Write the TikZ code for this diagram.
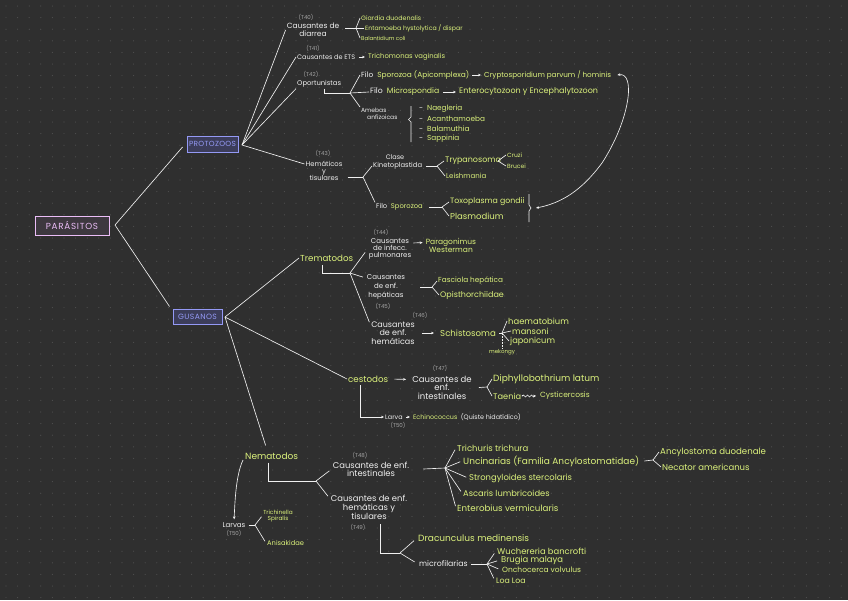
\documentclass[tikz,border=0pt]{standalone}
\usepackage{fontspec}
\setmainfont{Poppins}
\usepackage{xcolor}
\usetikzlibrary{arrows.meta, decorations.pathmorphing}

\definecolor{bgc}{HTML}{2F2F2F}
\definecolor{dotc}{HTML}{505050}
\definecolor{wht}{HTML}{F0F0F0}
\definecolor{lime}{HTML}{DCF27C}
\definecolor{tagc}{HTML}{A3A3A3}
\definecolor{pinkc}{HTML}{EBBDF7}
\definecolor{pinkf}{HTML}{3D383F}
\definecolor{bluec}{HTML}{9499F5}
\definecolor{bluef}{HTML}{3C3D5A}

\begin{document}
\begin{tikzpicture}[
        x=1pt, y=-1pt,
        fs/.style 2 args={font=\fontsize{#1}{#2}\selectfont},
        wt/.style={text=wht, inner sep=1pt, align=center, fs={7}{8}},
        lm/.style={text=lime, inner sep=1pt, align=center, fs={7}{8}},
        tag/.style={text=tagc, inner sep=0pt, fs={5.5}{6}},
        box/.style={rectangle, draw, line width=0.9pt, inner sep=0pt, align=center},
        ln/.style={draw=wht, line width=0.65pt},
        arr/.style={ln, -{Stealth[length=3pt, width=2.6pt]}},
        sq/.style={arr, decorate, decoration={snake, amplitude=1pt, segment length=4pt, post length=3pt}}
    ]
        % Background
        \fill[bgc] (0,0) rectangle (848,600);
        \foreach \i in {0,...,72} {
            \foreach \j in {0,...,51} {
                \fill[dotc] (6+\i*11.6, 6+\j*11.6) circle (0.6pt);
            }
        }

        % Main nodes
        \node[box, draw=pinkc, fill=pinkf, text=pinkc, minimum width=74pt, minimum height=19pt,
            font={\fontsize{8.8}{9}\selectfont\addfontfeatures{LetterSpace=8}}] (parasitos) at (72,225.5) {PARÁSITOS};
        \node[box, draw=bluec, fill=bluef, text=bluec, minimum width=51pt, minimum height=16pt,
            font={\fontsize{7.4}{7}\selectfont\addfontfeatures{LetterSpace=4}}] (protozoos) at (212.5,144) {PROTOZOOS};
        \node[box, draw=bluec, fill=bluef, text=bluec, minimum width=49pt, minimum height=15pt,
            font={\fontsize{7.6}{7}\selectfont\addfontfeatures{LetterSpace=5}}] (gusanos) at (197.5,316.5) {GUSANOS};
        \coordinate (pf) at (115,225);
        \coordinate (zf) at (242,145);
        \coordinate (gf) at (225,317);

        % Protozoos
        \node[tag] (t40) at (306,17) {(T40)};
        \node[wt, fs={7.5}{8}] (diarrea) at (313,30) {Causantes de\\diarrea};
        \coordinate (f40) at (356,28);
        \node[lm, fs={6.3}{7}, anchor=west] (giardia) at (360,18) {Giardia duodenalis};
        \node[lm, fs={6.2}{7}, anchor=west] (entamoeba) at (364,28) {Entamoeba hystolytica / dispar};
        \node[lm, fs={5.5}{7}, anchor=west] (balantidium) at (360,38) {Balantidium coli};

        \node[tag] (t41) at (313,48) {(T41)};
        \node[wt, fs={6.5}{7}, anchor=west] (ets) at (296,57) {Causantes de ETS};
        \node[lm, fs={6.8}{7}, anchor=west] (tricho) at (367,57) {Trichomonas vaginalis};

        \node[tag] (t42) at (311,74) {(T42)};
        \node[wt, fs={6.8}{7}, anchor=west] (oport) at (296,84) {Oportunistas};
        \coordinate (f42) at (350,93);
        \node[lm, fs={7.4}{8}, anchor=west] (fsporo) at (360,75) {\textcolor{wht}{Filo}\ \ Sporozoa (Apicomplexa)};
        \node[lm, fs={7.2}{8}, anchor=west] (crypto) at (483,75) {Cryptosporidium parvum / hominis};
        \node[lm, fs={7.7}{8}, anchor=west] (fmicro) at (369,92) {\textcolor{wht}{Filo}\ \ Microspondia};
        \node[lm, fs={8}{8}, anchor=west] (entero) at (458,92) {Enterocytozoon y Encephalytozoon};
        \node[wt, fs={6}{7}, anchor=north west, align=left] (amebas) at (360,107) {Amebas\\\hspace*{6pt}anfizoicas};
        \foreach \nm/\yy [count=\k] in {Naegleria/109, Acanthamoeba/119, Balamuthia/129, Sappinia/139}
            \node[lm, fs={7.3}{8}, anchor=west] (ameba\k) at (418,\yy) {\textcolor{wht}{-}\ \ \nm};
        \draw[ln] (411,106) -- (411,117) -- (408.5,119.5) -- (411,122) -- (411,142);

        \node[tag] (t43) at (323,153) {(T43)};
        \node[wt, fs={6.8}{6.8}] (hemat) at (324,171) {Hemáticos\\y\\tisulares};
        \coordinate (f43) at (363,177);
        \node[wt, fs={6.5}{7}] (clase) at (395,157) {Clase};
        \node[wt, fs={6.8}{7}, anchor=west] (kineto) at (372,166) {Kinetoplastida};
        \coordinate (f43k) at (437,166);
        \node[lm, fs={8}{8}, anchor=west] (trypa) at (444,161) {Trypanosoma};
        \node[lm, fs={7}{8}, anchor=west] (leish) at (445,176) {Leishmania};
        \coordinate (f43t) at (498,161);
        \node[lm, fs={6}{7}, anchor=west] (cruzi) at (506,155) {Cruzi};
        \node[lm, fs={6}{7}, anchor=west] (brucei) at (506,166) {Brucei};
        \node[lm, fs={6.8}{7}, anchor=west] (fsporo2) at (375,207) {\textcolor{wht}{Filo}\ \ Sporozoa};
        \coordinate (f43s) at (442,207);
        \node[lm, fs={7.8}{8}, anchor=west] (toxo) at (449,202) {Toxoplasma gondii};
        \node[lm, fs={8.5}{9}, anchor=west] (plasmo) at (449,216) {Plasmodium};
        \draw[ln] (529,194) -- (529,205) -- (531,208) -- (529,211) -- (529,222);
        \coordinate (brk) at (536,208);

        % Gusanos
        \node[lm, fs={8.7}{9}, anchor=west] (trema) at (299,258) {Trematodos};
        \coordinate (f44) at (350,273);
        \node[tag] (t44) at (381,232) {(T44)};
        \node[wt, fs={7}{7}] (pulmo) at (390,249) {Causantes\\de infecc.\\pulmonares};
        \node[lm, fs={7.5}{7}] (parag) at (451,245.5) {Paragonimus\\Westerman};
        \node[wt, fs={7}{9}] (hepat) at (386,287) {Causantes\\de enf.\\hepáticas};
        \coordinate (f45) at (432,287);
        \node[lm, fs={7.3}{8}, anchor=west] (fasciola) at (437,281) {Fasciola hepática};
        \node[lm, fs={8}{8}, anchor=west] (opist) at (439,295) {Opisthorchiidae};
        \node[tag] (t45) at (383,306) {(T45)};
        \node[tag] (t46) at (420,315) {(T46)};
        \node[wt, fs={8}{8.5}] (hemat2) at (393,333) {Causantes\\de enf.\\hemáticas};
        \node[lm, fs={8.6}{9}, anchor=west] (schisto) at (439,333) {Schistosoma};
        \coordinate (f46) at (502,333);
        \node[lm, fs={8.4}{9}, anchor=west] (haema) at (507,321) {haematobium};
        \node[lm, fs={8.3}{9}, anchor=west] (mansoni) at (511,331) {mansoni};
        \node[lm, fs={8.3}{9}, anchor=west] (japon) at (509,341) {japonicum};
        \node[lm, fs={5.5}{6}] (mekongi) at (502,352) {mekongy};

        \node[lm, fs={8.7}{9}, anchor=west] (cesto) at (347,379) {cestodos};
        \node[tag] (t47) at (440,368) {(T47)};
        \node[wt, fs={8.5}{8.5}] (intest) at (442,387.5) {Causantes de\\enf.\\intestinales};
        \coordinate (f47) at (487,387);
        \node[lm, fs={9}{9}, anchor=west] (diphyl) at (492,379) {Diphyllobothrium latum};
        \node[lm, fs={8.2}{9}, anchor=west] (taenia) at (492,396) {Taenia};
        \node[lm, fs={7.5}{9}, anchor=west] (cyst) at (539,396) {Cysticercosis};
        \node[wt, fs={6.4}{7}, anchor=west] (larva) at (384,417) {Larva};
        \node[lm, fs={6.4}{7}, anchor=west] (echino) at (412,417) {Echinococcus\ \ \textcolor{wht}{(Quiste hidatídico)}};
        \node[tag] (t50a) at (398,425) {(T50)};

        \node[lm, fs={9}{10}, anchor=west] (nemat) at (244,456) {Nematodos};
        \coordinate (f48) at (316,481);
        \node[tag] (t48) at (360,455) {(T48)};
        \node[wt, fs={8.4}{8}] (intest2) at (371,469) {Causantes de enf.\\intestinales};
        \coordinate (f48i) at (445,468);
        \node[lm, fs={8.5}{9}, anchor=west] (trichu) at (456,448) {Trichuris trichura};
        \node[lm, fs={9}{9}, anchor=west] (uncin) at (462,461) {Uncinarias (Familia Ancylostomatidae)};
        \node[lm, fs={8.4}{9}, anchor=west] (strongy) at (468,478) {Strongyloides stercolaris};
        \node[lm, fs={8.3}{9}, anchor=west] (ascaris) at (462,493) {Ascaris lumbricoides};
        \node[lm, fs={8.7}{9}, anchor=west] (enterob) at (456,508) {Enterobius vermicularis};
        \coordinate (f48u) at (653,460);
        \node[lm, fs={8.6}{9}, anchor=west] (ancylo) at (659,452) {Ancylostoma duodenale};
        \node[lm, fs={8.5}{9}, anchor=west] (necator) at (661,467) {Necator americanus};
        \node[wt, fs={8.4}{8.5}] (hemtis) at (369,507.5) {Causantes de enf.\\hemáticas y\\tisulares};
        \node[tag] (t49) at (358,527) {(T49)};
        \coordinate (l49) at (380,524);
        \coordinate (f49) at (400,553);
        \node[lm, fs={9}{9}, anchor=west] (dracun) at (417,538) {Dracunculus medinensis};
        \node[wt, fs={7.8}{8}, anchor=west] (microf) at (418,564) {microfilarias};
        \coordinate (f49m) at (487,564);
        \node[lm, fs={8.4}{8}, anchor=west] (wuch) at (496,551) {Wuchereria bancrofti};
        \node[lm, fs={8.4}{8}, anchor=west] (brugia) at (500,560) {Brugia malaya};
        \node[lm, fs={7.5}{8}, anchor=west] (oncho) at (501,570) {Onchocerca volvulus};
        \node[lm, fs={7.8}{8}, anchor=west] (loa) at (495,581) {Loa Loa};

        \node[wt, fs={7}{8}] (larvas) at (234,525) {Larvas};
        \node[tag] (t50b) at (234,533) {(T50)};
        \coordinate (f50) at (255,525);
        \node[lm, fs={5.8}{6}] (trichi) at (278,516) {Trichinella\\Spiralis};
        \node[lm, fs={6.7}{7}, anchor=west] (anisa) at (266,543) {Anisakidae};

        % Connectors
        \draw[ln] (pf) -- ([xshift=-4pt, yshift=-3pt]protozoos.west);
        \draw[ln] (pf) -- ([xshift=-3pt, yshift=2pt]gusanos.north west);

        \draw[ln] (zf) -- (diarrea.west);
        \draw[ln] (zf) -- (ets.west);
        \draw[ln] (zf) -- (oport.south west);
        \draw[ln] (zf) -- ([yshift=7pt]hemat.west);
        \draw[ln] ([xshift=5pt, yshift=2pt]diarrea.east) -- (f40);
        \foreach \n in {giardia, entamoeba, balantidium}
            \draw[ln] (f40) -- (\n.west);
        \draw[arr, shorten <=3pt, shorten >=2pt] (ets) -- (tricho);
        \draw[ln] ([xshift=5pt]oport.south) |- (f42);
        \draw[ln] (f42) -- (fsporo.west);
        \draw[ln] (f42) -- (fmicro.west);
        \draw[ln] (f42) -- (amebas.north west);
        \draw[arr, shorten <=2pt, shorten >=2pt] (fsporo) -- (crypto);
        \draw[arr, shorten <=3pt, shorten >=2pt] (fmicro) -- (entero);
        \draw[ln] ([xshift=4pt, yshift=-6pt]hemat.east) -- (f43);
        \draw[ln] (f43) -- (kineto.west);
        \draw[ln] (f43) -- (fsporo2.north west);
        \draw[ln] ([xshift=3pt]kineto.east) -- (f43k);
        \draw[ln] (f43k) -- (trypa.west);
        \draw[ln] (f43k) -- (leish.west);
        \draw[ln] (f43t) -- (cruzi.west);
        \draw[ln] (f43t) -- (brucei.west);
        \draw[ln] ([xshift=5pt]fsporo2.east) -- (f43s);
        \draw[ln] (f43s) -- (toxo.west);
        \draw[ln] (f43s) -- (plasmo.west);
        \draw[ln, {Stealth[length=3pt, width=2.6pt]}-{Stealth[length=3pt, width=2.6pt]}]
            ([xshift=5pt]crypto.east) .. controls (636,72) and (630,120) .. (602,163)
            .. controls (582,190) and (562,203) .. (brk);

        \draw[ln] (gf) -- (trema.west);
        \draw[ln] (gf) -- (cesto.west);
        \draw[ln] (gf) -- ([xshift=-6pt, yshift=6pt]nemat.north);
        \draw[ln] ([xshift=-4pt, yshift=-3pt]trema.south) |- (f44);
        \draw[ln, shorten >=4pt] (f44) -- (pulmo.west);
        \draw[ln, shorten >=3pt] (f44) -- ([yshift=9pt]hepat.west);
        \draw[ln, shorten >=2pt] (f44) -- ([yshift=9pt]hemat2.west);
        \draw[arr, shorten <=1pt, shorten >=2pt] ([yshift=6pt]pulmo.east) -- ([yshift=3pt]parag.west);
        \draw[ln] ([xshift=14pt]hepat.east) -- (f45);
        \draw[ln] (f45) -- (fasciola.west);
        \draw[ln] (f45) -- (opist.west);
        \draw[arr, shorten <=6pt, shorten >=5pt] (hemat2) -- (schisto);
        \draw[ln] ([xshift=2pt]schisto.east) -- (f46);
        \foreach \n in {haema, mansoni, japon}
            \draw[ln] (f46) -- (\n.west);
        \draw[ln, dash pattern=on 1.5pt off 1.5pt] (f46) -- (mekongi.north);

        \draw[arr, shorten <=5pt, shorten >=5pt] (cesto.east) -- ([yshift=8pt]intest.west);
        \draw[ln] ([xshift=6pt]intest.east) -- (f47);
        \draw[ln] (f47) -- (diphyl.west);
        \draw[ln] (f47) -- (taenia.west);
        \draw[sq, shorten <=1pt, shorten >=3pt] (taenia) -- (cyst);
        \draw[arr] ([xshift=-7.5pt, yshift=-2pt]cesto.south) |- (larva.west);
        \draw[arr, shorten <=2pt, shorten >=2pt] (larva) -- (echino);

        \draw[ln] ([xshift=-3pt, yshift=-2pt]nemat.south) |- (f48);
        \draw[ln, shorten >=3pt] (f48) -- (intest2.west);
        \draw[ln, shorten >=3pt] (f48) -- ([yshift=9pt]hemtis.west);
        \draw[ln] ([xshift=13pt]intest2.east) -- (f48i);
        \foreach \n in {trichu, uncin, strongy, ascaris, enterob}
            \draw[ln, shorten >=2pt] (f48i) -- (\n.west);
        \draw[ln] ([xshift=4pt]uncin.east) -- (f48u);
        \draw[ln] (f48u) -- (ancylo.west);
        \draw[ln] (f48u) -- (necator.west);
        \draw[ln] (l49) |- (f49);
        \draw[ln, shorten >=4pt] (f49) -- (dracun.west);
        \draw[ln, shorten >=4pt] (f49) -- (microf.west);
        \draw[ln] ([xshift=2pt]microf.east) -- (f49m);
        \foreach \n in {wuch, brugia, oncho, loa}
            \draw[ln, shorten >=3pt] (f49m) -- (\n.west);
        \draw[arr, shorten >=2pt] ([xshift=-1pt, yshift=-4pt]nemat.west) .. controls (236,475) and (235,500) .. (larvas.north);
        \draw[ln] ([xshift=2pt]larvas.east) -- (f50);
        \draw[ln, shorten >=1pt] (f50) -- (trichi.west);
        \draw[ln, shorten >=2pt] (f50) -- (anisa.west);
    \end{tikzpicture}
\end{document}
